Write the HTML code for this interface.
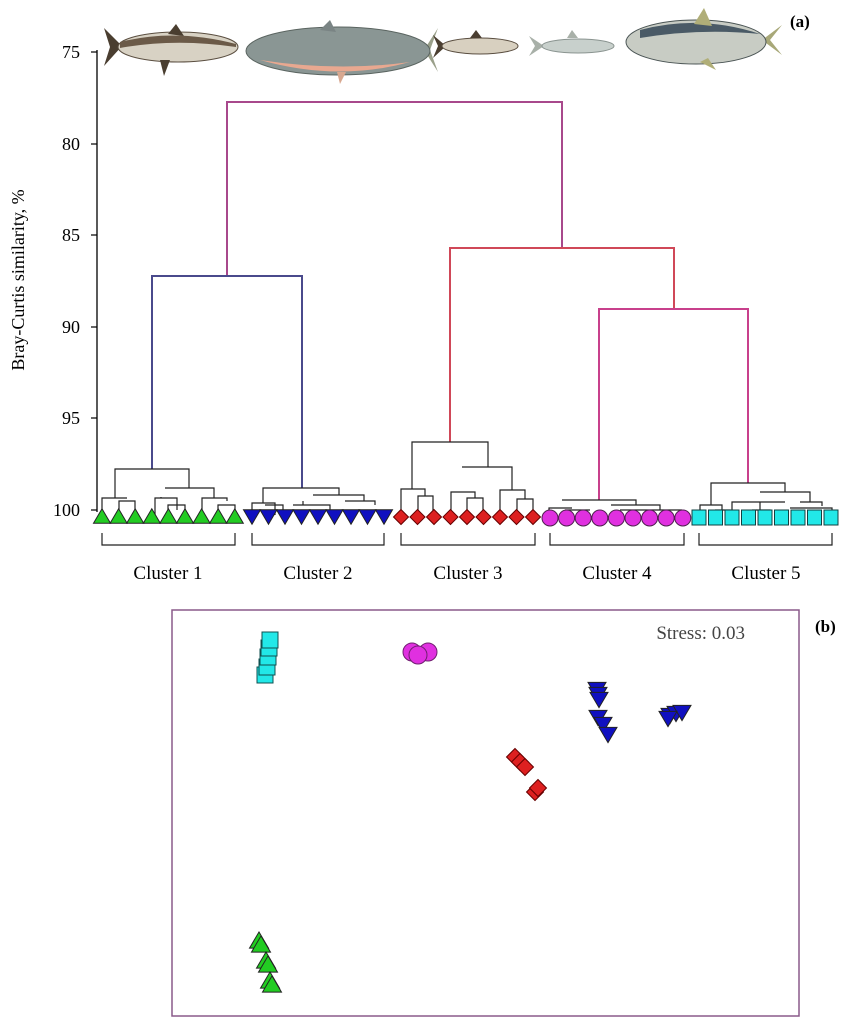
<!DOCTYPE html>
<html><head><meta charset="utf-8"><style>
html,body{margin:0;padding:0;background:#fff;}
svg{display:block;font-family:"Liberation Serif",serif;}
</style></head><body>
<svg id="s" width="850" height="1024" viewBox="0 0 850 1024" xmlns="http://www.w3.org/2000/svg">
<g>
 <path d="M104,28 L122,46 L104,66 L110,47 Z" fill="#4a3e30"/>
 <ellipse cx="178" cy="47" rx="60" ry="15" fill="#d8d2c4" stroke="#5a4e40" stroke-width="1"/>
 <path d="M120,42 Q175,28 236,44 L236,47 Q175,38 120,48Z" fill="#6b5a48"/>
 <path d="M168,34 L176,24 L184,36Z" fill="#4a3e30"/>
 <path d="M160,60 L164,76 L170,60Z" fill="#4a3e30"/>
 <path d="M438,28 L424,50 L438,72 L430,50Z" fill="#9aa08a"/>
 <ellipse cx="338" cy="51" rx="92" ry="24" fill="#8a9694" stroke="#5a6460" stroke-width="1"/>
 <path d="M260,60 Q338,82 410,62 Q338,72 260,60Z" fill="#e8a890"/>
 <path d="M320,30 L330,20 L336,32Z" fill="#7a8484"/>
 <path d="M337,72 L340,84 L346,72Z" fill="#d8a890"/>
 <path d="M433,35 L446,46 L433,58 L438,46Z" fill="#4a3e30"/>
 <ellipse cx="480" cy="46" rx="38" ry="8" fill="#d8d0c0" stroke="#5a4e40" stroke-width="1"/>
 <path d="M470,38 L476,30 L482,38Z" fill="#4a3e30"/>
 <path d="M529,36 L544,46 L529,56 L535,46Z" fill="#a8b0a8"/>
 <ellipse cx="578" cy="46" rx="36" ry="7" fill="#c8d0cc" stroke="#8a9490" stroke-width="1"/>
 <path d="M567,38 L572,30 L578,38Z" fill="#a8b0a8"/>
 <path d="M782,25 L762,40 L782,55 L770,40Z" fill="#a8a878"/>
 <ellipse cx="696" cy="42" rx="70" ry="22" fill="#c8ccc4" stroke="#4a5454" stroke-width="1"/>
 <path d="M640,30 Q700,14 760,34 Q700,28 640,38Z" fill="#4a5a66"/>
 <path d="M694,24 L704,8 L712,26Z" fill="#b0ae78"/>
 <path d="M700,62 L716,70 L708,58Z" fill="#b0ae78"/>
</g>
<text x="790" y="27" font-size="17" font-weight="bold">(a)</text>
<line x1="97" y1="50" x2="97" y2="512" stroke="#000" stroke-width="1.3"/>
<g font-size="18" text-anchor="end">
<text x="80" y="58">75</text><text x="80" y="150">80</text><text x="80" y="241">85</text>
<text x="80" y="333">90</text><text x="80" y="424">95</text><text x="80" y="516">100</text>
</g>
<g stroke="#000" stroke-width="1.2">
<line x1="91" y1="52" x2="97" y2="52"/><line x1="91" y1="144" x2="97" y2="144"/><line x1="91" y1="235" x2="97" y2="235"/>
<line x1="91" y1="327" x2="97" y2="327"/><line x1="91" y1="418" x2="97" y2="418"/><line x1="91" y1="510" x2="97" y2="510"/>
</g>
<text transform="translate(24,280) rotate(-90)" font-size="18" text-anchor="middle">Bray-Curtis similarity, %</text>
<g fill="none" stroke-width="2">
<path d="M227,276 V102 H562 V248" stroke="#a8488c"/>
<path d="M152,469 V276 H302 V488" stroke="#4a4a8c"/>
<path d="M450,442 V248 H674 V309" stroke="#d04858"/>
<path d="M599,500 V309 H748 V483" stroke="#c8408c"/>
</g>
<g fill="none" stroke="#222" stroke-width="1.2">
<path d="M115,498 V469 H189 V488"/>
<path d="M102,515 V498 H127 V498 M119,510 V501 H135 V515"/>
<path d="M155,515 V498 H177 V510 M168,510 V505 H185 V515 M161,498 V497"/>
<path d="M165,488 H214 V498 M202,515 V498 H227 V501 M218,515 V505 H235 V515"/>
<path d="M263,503 V488 H339 V495 M252,515 V503 H275 V515 M265,505 H283 V515"/>
<path d="M313,495 H364 V501 M303,501 V505 M293,505 H330 V515 M345,501 H375 V505"/>
<path d="M401,515 V489 H425 V496 M418,515 V496 H433 V515"/>
<path d="M412,489 V442 H488 V467"/>
<path d="M462,467 H512 V490 M451,515 V492 H475 V498 M467,515 V498 H483 V515"/>
<path d="M500,515 V490 H525 V499 M517,515 V499 H533 V515"/>
<path d="M562,500 H636 V505 M549,515 V508 H572 M565,510 H590 M611,505 H660 V510 M620,510 H682 M649,510 V515"/>
<path d="M711,505 V483 H785 V492 M700,515 V505 H722 V510 M715,510 H730 V515"/>
<path d="M760,492 H810 V502 M740,502 H785 M732,515 V502 H760 V510 M752,510 H770 V515 M800,502 H822 V506 M790,508 H832 V515"/>
</g>
<g id="leaves"></g>
<g fill="none" stroke="#222" stroke-width="1.2">
<path d="M102,533 V545 H235 V533"/><path d="M252,533 V545 H384 V533"/>
<path d="M401,533 V545 H535 V533"/><path d="M550,533 V545 H684 V533"/><path d="M699,533 V545 H832 V533"/>
</g>
<g font-size="19" text-anchor="middle">
<text x="168" y="579">Cluster 1</text><text x="318" y="579">Cluster 2</text><text x="468" y="579">Cluster 3</text>
<text x="617" y="579">Cluster 4</text><text x="766" y="579">Cluster 5</text>
</g>
<rect x="172" y="610" width="627" height="406" fill="none" stroke="#8a5a8a" stroke-width="1.5"/>
<text x="745" y="639" font-size="19" text-anchor="end" fill="#444">Stress: 0.03</text>
<text x="815" y="632" font-size="17" font-weight="bold">(b)</text>
<g id="pts"></g>
</svg>
<script>
var L=document.getElementById('leaves'),P=document.getElementById('pts');
function add(g,s){g.insertAdjacentHTML('beforeend',s);}
function tri(x,y,up,f,sz){var h=sz;return up?'<polygon points="'+(x-h)+','+(y+h*0.85)+' '+(x+h)+','+(y+h*0.85)+' '+x+','+(y-h*0.85)+'" fill="'+f+'" stroke="#222" stroke-width="1"/>':'<polygon points="'+(x-h)+','+(y-h*0.85)+' '+(x+h)+','+(y-h*0.85)+' '+x+','+(y+h*0.85)+'" fill="'+f+'" stroke="#222" stroke-width="1"/>';}
function dia(x,y,f,s){return '<polygon points="'+x+','+(y-s)+' '+(x+s)+','+y+' '+x+','+(y+s)+' '+(x-s)+','+y+'" fill="'+f+'" stroke="#600" stroke-width="1"/>';}
for(var i=0;i<9;i++){
 add(L,tri(102+i*16.6,516,true,'#22cc22',8.5));
 add(L,tri(252+i*16.5,517,false,'#1010c0',8.5));
 add(L,dia(401+i*16.5,517,'#dd2020',7.5));
 add(L,'<circle cx="'+(550+i*16.6)+'" cy="518" r="8" fill="#e030e0" stroke="#502050" stroke-width="1"/>');
 add(L,'<rect x="'+(692+i*16.5)+'" y="510" width="14" height="15" fill="#22e8e8" stroke="#104040" stroke-width="1"/>');
}
[[265,675],[267,667],[268,657],[269,648],[270,640]].forEach(function(p){add(P,'<rect x="'+(p[0]-8)+'" y="'+(p[1]-8)+'" width="16" height="16" fill="#22e8e8" stroke="#105050" stroke-width="1"/>');});
[[412,652],[428,652],[418,655]].forEach(function(p){add(P,'<circle cx="'+p[0]+'" cy="'+p[1]+'" r="9" fill="#e030e0" stroke="#702070" stroke-width="1"/>');});
[[597,690],[598,695],[599,700],[598,718],[603,725],[608,735]].forEach(function(p){add(P,tri(p[0],p[1],false,'#1010c0',9));});
[[670,716],[676,714],[682,713],[668,719]].forEach(function(p){add(P,tri(p[0],p[1],false,'#1010c0',9));});
[[515,757],[520,762],[525,767],[535,792],[538,788]].forEach(function(p){add(P,dia(p[0],p[1],'#dd2020',8.5));});
[[259,940],[261,944],[266,960],[268,964],[270,980],[272,984]].forEach(function(p){add(P,tri(p[0],p[1],true,'#22cc22',9.5));});
</script>
</body></html>
